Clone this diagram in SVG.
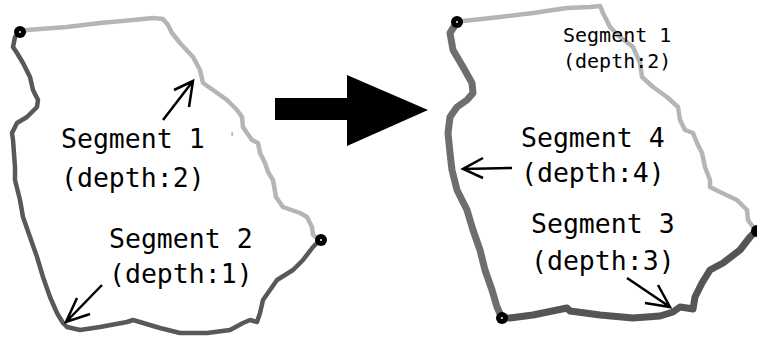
<svg xmlns="http://www.w3.org/2000/svg" width="757" height="339" viewBox="0 0 757 339">
  <style>
    .seg { fill: none; stroke-linejoin: round; stroke-linecap: round; }
    .light { stroke: #b5b5b5; stroke-width: 4.5; }
    .dark { stroke: #585858; stroke-width: 4.5; }
    .mid { stroke: #6e6e6e; stroke-width: 7; }
    .deep { stroke: #555555; stroke-width: 7; }
    .ptr { fill: none; stroke: #000; stroke-width: 2.5; stroke-linecap: butt; }
    .lbl { font-family: "DejaVu Sans Mono", "Liberation Mono", monospace; fill: #000; }
    .big { font-size: 26.5px; }
    .small { font-size: 20px; }
    .dot { fill: #000; }
    .hole { fill: #fff; }
  </style>

  <!-- Before: outline split into two segments -->
  <g id="before">
    <polyline id="before-seg1" class="seg light" points="20,32 27,30 67,27 100,23 133,20 153,18 163,19 168,25 172,33 180,43 193,57 200,70 203,83 213,90 227,100 237,110 242,117 243,127 247,133 252,140 258,143 260,153 265,163 268,172 273,180 276,197 283,207 300,213 307,217 312,227 313,235 320,240"/>
    <polyline id="before-seg2" class="seg dark" points="320,240 313,247 303,260 293,270 277,280 270,290 263,300 260,313 257,322 250,320 243,323 230,330 207,333 180,333 160,328 133,320 127,322 100,327 80,330 67,327 63,323 57,313 50,297 43,277 37,257 30,237 23,217 20,200 15,180 15,167 13,140 12,133 17,123 27,117 37,107 38,100 33,90 30,77 23,63 17,53 13,47 15,37 20,32"/>
    <rect x="231.5" y="132" width="1.2" height="4" fill="#9a9a9a"/>
    <circle class="dot" cx="20" cy="32" r="6"/>
    <circle class="hole" cx="20" cy="32" r="1"/>
    <circle class="dot" cx="321" cy="240" r="6"/>
    <circle class="hole" cx="321" cy="240" r="1"/>
  </g>

  <!-- After: outline split into three segments -->
  <g id="after">
    <polyline id="after-seg1" class="seg light" points="457,22 463,21 500,17 533,13 567,8 590,7 600,6 603,13 610,27 620,37 633,47 640,63 642,77 653,87 667,97 678,107 680,120 685,130 693,133 697,143 702,153 705,167 710,180 710,187 720,192 737,200 747,210 748,220 753,227 756,231"/>
    <polyline id="after-seg4" class="seg mid" points="457,22 450,33 453,50 463,67 472,83 473,93 467,100 457,107 450,117 448,133 450,153 452,170 457,190 467,210 473,230 480,250 485,270 492,290 497,307 502,318"/>
    <polyline id="after-seg3" class="seg deep" points="502,318 510,318 533,315 567,308 570,311 600,315 633,318 660,316 673,312 680,307 687,308 693,309 695,297 702,283 710,270 723,263 740,250 750,237 756,231"/>
    <circle class="dot" cx="457" cy="22" r="6"/>
    <circle class="hole" cx="457" cy="22" r="1"/>
    <circle class="dot" cx="502" cy="318" r="6"/>
    <circle class="hole" cx="502" cy="318" r="1"/>
    <circle class="dot" cx="757" cy="231" r="6"/>
  </g>

  <!-- Transition arrow -->
  <g id="transition">
    <rect x="275" y="98" width="73" height="22" fill="#000"/>
    <polygon points="347,75 428,110 347,146" fill="#000"/>
  </g>

  <!-- Label pointers -->
  <g id="connectors">
    <path class="ptr" d="M163,120 L193,81 M174,90 L193,81 L189,107"/>
    <path class="ptr" d="M102,285 L66,322 M77,298 L66,322 L90,314"/>
    <path class="ptr" d="M512,168 L463,169 M483,158 L463,169 L483,178"/>
    <path class="ptr" d="M627,278 L670,307 M658,285 L670,307 L645,303"/>
  </g>

  <!-- Labels -->
  <g id="label-before-seg1">
    <text class="lbl big" x="61" y="148">Segment 1</text>
    <text class="lbl big" x="61" y="187">(depth:2)</text>
  </g>
  <g id="label-before-seg2">
    <text class="lbl big" x="109" y="248">Segment 2</text>
    <text class="lbl big" x="109" y="283">(depth:1)</text>
  </g>
  <g id="label-after-seg1">
    <text class="lbl small" x="563" y="42">Segment 1</text>
    <text class="lbl small" x="563" y="68">(depth:2)</text>
  </g>
  <g id="label-after-seg4">
    <text class="lbl big" x="521" y="147">Segment 4</text>
    <text class="lbl big" x="521" y="182">(depth:4)</text>
  </g>
  <g id="label-after-seg3">
    <text class="lbl big" x="531" y="233">Segment 3</text>
    <text class="lbl big" x="531" y="270">(depth:3)</text>
  </g>
</svg>
